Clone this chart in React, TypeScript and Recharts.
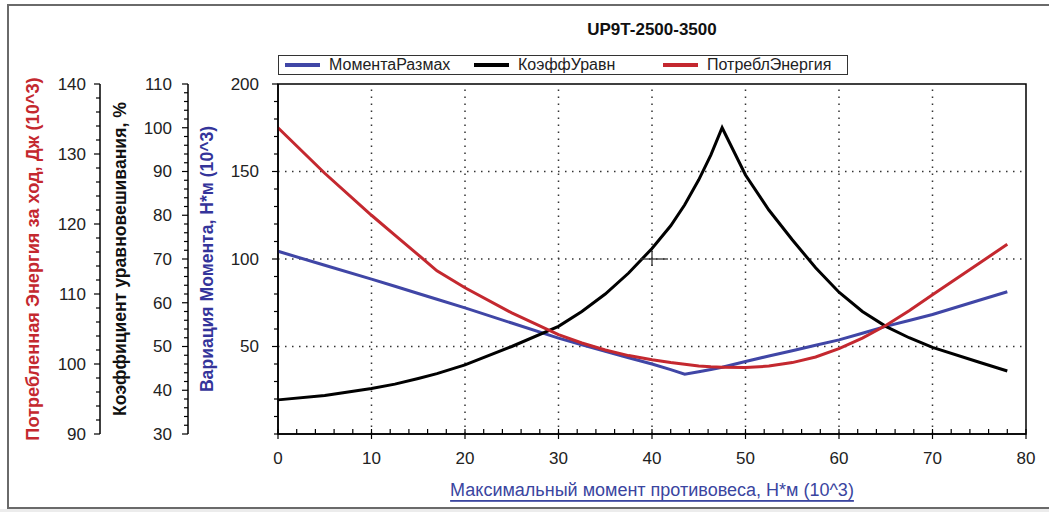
import React from "react";
import {
  ComposedChart,
  Line,
  XAxis,
  YAxis,
  Legend,
  ReferenceLine,
  ReferenceArea,
  ReferenceDot,
} from "recharts";

const FONT = '"Liberation Sans", Arial, sans-serif';
const BLUE = "#4046a6";
const RED = "#c4282f";
const BLACK = "#000000";

// максимальный момент противовеса, Н*м (10^3)
const counterMoment = [0, 5, 10, 12.5, 15, 17, 20, 25, 30, 32.5, 35, 37.5, 40, 42, 43.5, 45, 46.3, 47.5, 50, 52.5, 55, 57.5, 60, 62.5, 65, 67.5, 70, 75, 78];
// вариация момента, Н*м (10^3)
const momentRange = [104.4, 96.4, 88.5, 84.4, 80.3, 77, 72.1, 63.4, 54.8, 51, 47.3, 43.6, 40, 36.8, 34.2, 35.6, 36.8, 38.1, 41.4, 44.6, 47.6, 50.7, 53.8, 57.6, 61.5, 64.9, 68.3, 76.4, 81.3];
// коэффициент уравновешивания, %
const balanceCoef = [37.8, 38.8, 40.4, 41.4, 42.7, 43.8, 45.8, 50, 54.6, 58, 62, 66.8, 72.4, 77.6, 82.4, 88.1, 93.8, 100, 89.2, 81.2, 74.4, 68, 62.4, 58, 54.6, 52, 49.8, 46.4, 44.4];
// потребленная энергия за ход, Дж (10^3)
const energyUsed = [133.75, 127.25, 121.25, 118.4, 115.6, 113.3, 110.9, 107.3, 104.2, 103, 102, 101.2, 100.6, 100.2, 99.95, 99.7, 99.6, 99.55, 99.5, 99.7, 100.2, 101, 102.2, 103.7, 105.5, 107.6, 109.9, 114.4, 117.1];

// tick labels
const xMajor = [0, 10, 20, 30, 40, 50, 60, 70, 80];
const momentMajor = [50, 100, 150, 200];
const coefMajor = [30, 40, 50, 60, 70, 80, 90, 100, 110];
const energyMajor = [90, 100, 110, 120, 130, 140];
const gridX = [10, 20, 30, 40, 50, 60, 70];
const gridY = [50, 100, 150];
const cursorPoint = [40, 100];

const series = [
  { key: "moment", name: "МоментаРазмах", color: BLUE },
  { key: "coef", name: "КоэффУравн", color: BLACK },
  { key: "energy", name: "ПотреблЭнергия", color: RED },
];

// axis ids are ordered alphabetically by recharts: first = closest to the plot
const AX_MOMENT = "a_moment";
const AX_COEF = "b_coef";
const AX_ENERGY = "c_energy";

const range = (a: number, b: number, s: number) =>
  Array.from({ length: Math.round((b - a) / s) + 1 }, (_, i) => +(a + i * s).toFixed(3));

const rows = counterMoment.map((x, i) => ({
  x,
  moment: momentRange[i],
  coef: balanceCoef[i],
  energy: energyUsed[i],
}));

function LeftTick(props: any) {
  const { x, y, payload, gap, labels } = props;
  const axisX = x + gap;
  const major = labels.includes(payload.value);
  return (
    <g>
      <line x1={axisX - (major ? 6 : 4)} x2={axisX} y1={y} y2={y} stroke="#000" strokeWidth={1.2} />
      {major && (
        <text x={x} y={y} dy="0.35em" textAnchor="end" fontSize={17} fontFamily={FONT} fill="#222">
          {payload.value}
        </text>
      )}
    </g>
  );
}

function BottomTick(props: any) {
  const { x, y, payload, gap } = props;
  const axisY = y - gap;
  const major = xMajor.includes(payload.value);
  return (
    <g>
      <line x1={x} x2={x} y1={axisY - 5} y2={axisY + (major ? 5 : 0)} stroke="#000" strokeWidth={1.2} />
      {major && (
        <text x={x} y={y} dy="0.71em" textAnchor="middle" fontSize={17} fontFamily={FONT} fill="#222">
          {payload.value}
        </text>
      )}
    </g>
  );
}

function TopTick(props: any) {
  const { x, y } = props;
  return <line x1={x} x2={x} y1={y} y2={y + 5} stroke="#000" strokeWidth={1.2} />;
}

function YTitle({ viewBox, text, color, dx, size }: any) {
  if (!viewBox) return null;
  const cx = viewBox.x + dx;
  const cy = viewBox.y + viewBox.height / 2;
  return (
    <text
      x={cx}
      y={cy}
      transform={`rotate(-90 ${cx} ${cy})`}
      textAnchor="middle"
      dominantBaseline="central"
      fill={color}
      fontWeight="bold"
      fontSize={size}
      fontFamily={FONT}
    >
      {text}
    </text>
  );
}

function XTitle({ viewBox }: any) {
  if (!viewBox) return null;
  return (
    <text
      x={viewBox.x + viewBox.width / 2}
      y={viewBox.y + 56}
      textAnchor="middle"
      dominantBaseline="central"
      fill="#3a45a0"
      fontSize={18}
      fontFamily={FONT}
      textDecoration="underline"
    >
      Максимальный момент противовеса, Н*м (10^3)
    </text>
  );
}

function Cursor({ cx, cy }: any) {
  return (
    <g stroke="#333" strokeWidth={1.3}>
      <line x1={cx - 12} x2={cx + 16} y1={cy} y2={cy} />
      <line x1={cx} x2={cx} y1={cy - 8} y2={cy + 7} />
    </g>
  );
}

function LegendBox() {
  return (
    <div
      style={{
        display: "flex",
        alignItems: "center",
        height: 20,
        width: 570,
        boxSizing: "border-box",
        border: "1.5px solid #333",
        background: "#fff",
        fontFamily: FONT,
        fontSize: 16,
        color: "#222",
      }}
    >
      {series.map((s) => (
        <div key={s.key} style={{ width: 189, display: "flex", alignItems: "center", whiteSpace: "nowrap" }}>
          <span style={{ display: "inline-block", width: 35, height: 4, background: s.color, marginLeft: 6, marginRight: 9 }} />
          <span>{s.name}</span>
        </div>
      ))}
    </div>
  );
}

export default function App() {
  return (
    <div style={{ position: "absolute", left: 0, top: 0, width: 1049, height: 512, overflow: "hidden", background: "#fff" }}>
      <div
        style={{
          position: "absolute",
          left: 7,
          top: 4,
          width: 1100,
          height: 505,
          boxSizing: "border-box",
          border: "2px solid #6a6a6a",
        }}
      />
      <div style={{ position: "absolute", left: 0, top: 509, width: 1049, height: 3, background: "#ececec" }} />
      <div
        style={{
          position: "absolute",
          left: 278,
          top: 20,
          width: 748,
          textAlign: "center",
          fontFamily: FONT,
          fontWeight: "bold",
          fontSize: 17,
          lineHeight: "20px",
          color: "#111",
        }}
      >
        UP9T-2500-3500
      </div>
      <div style={{ position: "absolute", left: 0, top: 0 }}>
        <ComposedChart
          width={1049}
          height={512}
          data={rows}
          margin={{ top: 84, right: 23, bottom: 18, left: 15 }}
          style={{ fontFamily: FONT }}
        >
          <XAxis
            dataKey="x"
            type="number"
            domain={[0, 80]}
            ticks={range(0, 80, 2)}
            interval={0}
            height={60}
            tickSize={0}
            tickMargin={18}
            tickLine={false}
            stroke="#000"
            strokeWidth={1.5}
            tick={(p: any) => <BottomTick {...p} gap={18} />}
            label={{ content: (p: any) => <XTitle viewBox={p.viewBox} /> }}
          />
          <XAxis
            xAxisId="top"
            orientation="top"
            type="number"
            domain={[0, 80]}
            ticks={range(0, 80, 2)}
            interval={0}
            height={0}
            tickSize={0}
            tickMargin={0}
            tickLine={false}
            stroke="#000"
            strokeWidth={1.5}
            tick={(p: any) => <TopTick {...p} />}
          />
          <YAxis
            yAxisId={AX_MOMENT}
            type="number"
            domain={[0, 200]}
            ticks={range(0, 200, 10)}
            interval={0}
            width={90}
            tickSize={0}
            tickMargin={19}
            tickLine={false}
            stroke="#000"
            strokeWidth={1.5}
            tick={(p: any) => <LeftTick {...p} gap={19} labels={momentMajor} />}
            label={{ content: (p: any) => <YTitle viewBox={p.viewBox} dx={19} size={17.6} color="#34349a" text="Вариация Момента, Н*м (10^3)" /> }}
          />
          <YAxis
            yAxisId={AX_COEF}
            type="number"
            domain={[30, 110]}
            ticks={range(30, 110, 2)}
            interval={0}
            width={88}
            tickSize={0}
            tickMargin={16}
            tickLine={false}
            stroke="#000"
            strokeWidth={1.5}
            tick={(p: any) => <LeftTick {...p} gap={16} labels={coefMajor} />}
            label={{ content: (p: any) => <YTitle viewBox={p.viewBox} dx={20} size={17.6} color="#111" text="Коэффициент уравновешивания, %" /> }}
          />
          <YAxis
            yAxisId={AX_ENERGY}
            type="number"
            domain={[90, 140]}
            ticks={range(90, 140, 2)}
            interval={0}
            width={85}
            tickSize={0}
            tickMargin={14}
            tickLine={false}
            stroke="#000"
            strokeWidth={1.5}
            tick={(p: any) => <LeftTick {...p} gap={14} labels={energyMajor} />}
            label={{ content: (p: any) => <YTitle viewBox={p.viewBox} dx={18} size={18.2} color="#c4282f" text="Потребленная Энергия за ход, Дж (10^3)" /> }}
          />

          {gridX.map((v) => (
            <ReferenceLine key={`gx${v}`} yAxisId={AX_MOMENT} x={v} stroke="#333" strokeWidth={1.5} strokeDasharray="1.5 5.5" />
          ))}
          {gridY.map((v) => (
            <ReferenceLine key={`gy${v}`} yAxisId={AX_MOMENT} y={v} stroke="#333" strokeWidth={1.5} strokeDasharray="1.5 5.5" />
          ))}
          <ReferenceArea yAxisId={AX_MOMENT} x1={0} x2={80} y1={0} y2={200} fill="none" stroke="#000" strokeWidth={1.5} />

          <Legend
            layout="horizontal"
            verticalAlign="middle"
            align="center"
            content={() => <LegendBox />}
            wrapperStyle={{ top: 55, left: 278, width: 570, height: 20 }}
          />

          <Line yAxisId={AX_MOMENT} dataKey="moment" name={series[0].name} type="linear" stroke={BLUE} strokeWidth={3} dot={false} isAnimationActive={false} />
          <Line yAxisId={AX_COEF} dataKey="coef" name={series[1].name} type="linear" stroke={BLACK} strokeWidth={3} dot={false} isAnimationActive={false} />
          <Line yAxisId={AX_ENERGY} dataKey="energy" name={series[2].name} type="linear" stroke={RED} strokeWidth={3} dot={false} isAnimationActive={false} />

          <ReferenceDot yAxisId={AX_MOMENT} x={cursorPoint[0]} y={cursorPoint[1]} shape={(p: any) => <Cursor {...p} />} />
        </ComposedChart>
      </div>
    </div>
  );
}
